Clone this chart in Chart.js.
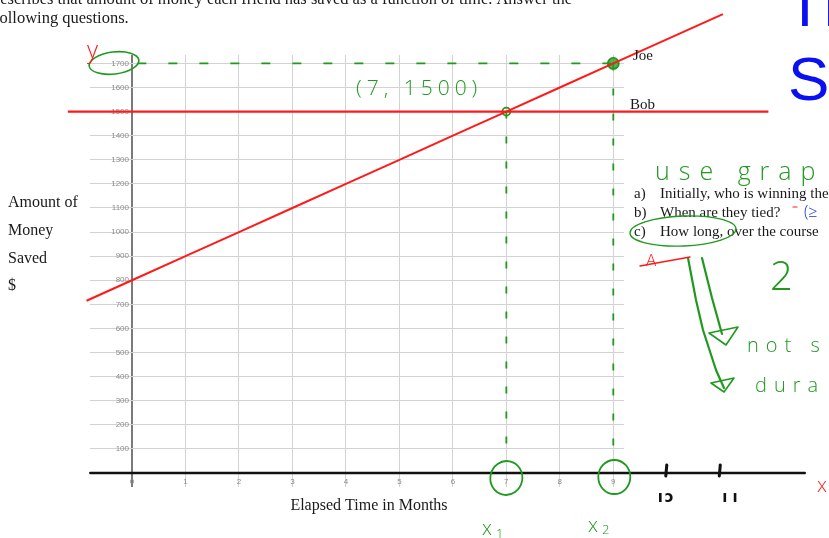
<!DOCTYPE html>
<html>
<head>
<meta charset="utf-8">
<script src="https://cdn.jsdelivr.net/npm/chart.js@4.4.0/dist/chart.umd.min.js"></script>
<style>
  html, body { margin: 0; padding: 0; background: #fff; }
  #wrap { width: 829px; height: 538px; position: relative; }
</style>
</head>
<body>
<div id="wrap"><canvas id="chart" width="829" height="538"></canvas></div>
<script>
// axis ticks
const monthTicks = [0, 1, 2, 3, 4, 5, 6, 7, 8, 9];
const savedTicks = [0, 100, 200, 300, 400, 500, 600, 700, 800, 900, 1000, 1100, 1200, 1300, 1400, 1500, 1600, 1700];

// Joe: the rising line (runs past the grid on both sides)
const joeMonths = [-0.85, 0, 1, 2, 3, 4, 5, 6, 7, 8, 9, 11.05];
const joeSaved = [715, 800, 900, 1000, 1100, 1200, 1300, 1400, 1500, 1600, 1700, 1905];

// Bob: flat line
const bobMonths = [-1.2, 11.9];
const bobSaved = [1500, 1500];

// hand-drawn guides
const tieMonths = [7, 7];
const tieSaved = [1500, 60];
const joeTopMonths = [9, 9];
const joeTopSaved = [1700, 60];
const topGuideMonths = [0.1, 9];
const topGuideSaved = [1700, 1700];

const RED = "#ff1a1a";
const GREEN = "#1f9a1f";
const INK = "#1a1a1a";
const HAND = '300 20px "Open Sans"';

const pts = (xs, ys) => xs.map((m, i) => ({ x: m, y: ys[i] }));

const notes = {
  id: "notes",
  afterDraw(chart) {
    const { ctx } = chart;
    const x = chart.scales.x;
    const y = chart.scales.y;
    const text = (s, px, py, font, color, align = "left", spacing = "0px") => {
      ctx.font = font;
      ctx.fillStyle = color;
      ctx.textAlign = align;
      ctx.textBaseline = "alphabetic";
      ctx.letterSpacing = spacing;
      ctx.fillText(s, px, py);
      ctx.letterSpacing = "0px";
    };
    const ellipse = (cx, cy, rx, ry, rot, color, lw) => {
      ctx.beginPath();
      ctx.ellipse(cx, cy, rx, ry, rot, 0, Math.PI * 2);
      ctx.strokeStyle = color;
      ctx.lineWidth = lw;
      ctx.stroke();
    };
    const path = (list, color, lw) => {
      ctx.beginPath();
      ctx.moveTo(list[0][0], list[0][1]);
      list.slice(1).forEach((p) => ctx.lineTo(p[0], p[1]));
      ctx.strokeStyle = color;
      ctx.lineWidth = lw;
      ctx.lineCap = "round";
      ctx.lineJoin = "round";
      ctx.stroke();
    };

    ctx.save();

    // extended x axis (drawn on by hand)
    path([[x.getPixelForValue(-0.78), y.getPixelForValue(0)], [x.getPixelForValue(12.58), y.getPixelForValue(0)]], "#111", 2.5);
    [10, 11].forEach((m) => {
      const px = x.getPixelForValue(m);
      path([[px, 465], [px - 1, 476]], "#111", 3);
    });
    text("ı", x.getPixelForValue(10) - 9, 502, "bold 15px 'DejaVu Sans'", "#111");
    text("ɔ", x.getPixelForValue(10) - 2, 502, "bold 15px 'DejaVu Sans'", "#111");
    text("ı ı", x.getPixelForValue(11) + 2, 502, "bold 15px 'DejaVu Sans'", "#111");
    text("x", 817, 492, "300 20px 'Open Sans'", RED);

    // printed text
    const serif = "16.5px 'Liberation Serif'";
    text("describes that amount of money each friend has saved as a function of time. Answer the", -8, 4, serif, INK);
    text("following questions.", -6, 23, serif, INK);
    text("Amount of", 8, 207, "16px 'Liberation Serif'", INK);
    text("Money", 8, 235, "16px 'Liberation Serif'", INK);
    text("Saved", 8, 263, "16px 'Liberation Serif'", INK);
    text("$", 8, 290, "16px 'Liberation Serif'", INK);
    text("Elapsed Time in Months", 369, 510, "16px 'Liberation Serif'", INK, "center");
    text("Joe", 633, 60, "15px 'Liberation Serif'", INK);
    text("Bob", 630, 109, "15px 'Liberation Serif'", INK);
    const q = "15px 'Liberation Serif'";
    text("a)", 634, 198, q, INK);
    text("Initially, who is winning the race?", 660, 198, q, INK);
    text("b)", 634, 217, q, INK);
    text("When are they tied?", 660, 217, q, INK);
    text("c)", 634, 236, q, INK);
    text("How long, over the course", 660, 236, q, INK);

    // big blue heading letters cut by the right edge
    text("Th", 786, 26, "62px 'Liberation Sans'", "#0a10f0");
    text("S", 788, 100, "62px 'Liberation Sans'", "#0a10f0");

    // green handwriting
    text("(7, 1500)", 356, 95, '300 21px "Open Sans"', GREEN, "left", "5px");
    text("use grap", 655, 180, '300 25px "Open Sans"', GREEN, "left", "9px");
    text("not s", 747, 352, HAND, GREEN, "left", "7px");
    text("dura", 755, 392, HAND, GREEN, "left", "7px");
    text("2", 770, 290, '300 40px "Open Sans"', GREEN);
    text("x", 482, 535, HAND, GREEN);
    text("1", 496, 538, '300 13px "Open Sans"', GREEN);
    text("x", 588, 532, HAND, GREEN);
    text("2", 602, 534, '300 13px "Open Sans"', GREEN);
    text("(≥", 804, 217, '300 16px "Open Sans"', "#1030e0");
    path([[793, 207], [797, 207]], RED, 1.2);

    // circles drawn by hand
    ellipse(114, 63, 25, 11, -0.12, GREEN, 1.6);
    ellipse(x.getPixelForValue(7), 478, 16, 17, 0.2, GREEN, 1.8);
    ellipse(x.getPixelForValue(9) + 1, 477, 16, 17, 0, GREEN, 1.8);
    ellipse(683, 231, 53, 15, -0.04, GREEN, 1.4);

    // arrows
    path([[688, 258], [696, 300], [703, 330], [716, 370], [724, 388]], GREEN, 2.2);
    path([[711, 383], [734, 378], [724, 392], [711, 383]], GREEN, 1.6);
    path([[702, 258], [712, 298], [722, 334]], GREEN, 2.2);
    path([[709, 333], [738, 327], [726, 345], [709, 333]], GREEN, 1.6);

    // red marks
    text("y", 87, 58, '300 24px "Open Sans"', RED);
    text("A", 646, 266, '300 17px "Open Sans"', RED);
    path([[640, 266], [690, 257]], RED, 1.4);

    ctx.restore();
  },
};

new Chart(document.getElementById("chart"), {
  type: "line",
  data: {
    datasets: [
      {
        label: "Joe",
        data: pts(joeMonths, joeSaved),
        borderColor: RED,
        borderWidth: 2,
        pointRadius: 0,
        clip: false,
      },
      {
        label: "Bob",
        data: pts(bobMonths, bobSaved),
        borderColor: RED,
        borderWidth: 2.2,
        pointRadius: 0,
        clip: false,
      },
      {
        label: "top guide",
        data: pts(topGuideMonths, topGuideSaved),
        borderColor: GREEN,
        borderWidth: 1.8,
        borderDash: [9, 22],
        pointRadius: 0,
        clip: false,
      },
      {
        label: "tie guide",
        data: pts(tieMonths, tieSaved),
        borderColor: GREEN,
        borderWidth: 1.8,
        borderDash: [7, 18],
        pointRadius: 0,
        clip: false,
      },
      {
        label: "joe guide",
        data: pts(joeTopMonths, joeTopSaved),
        borderColor: GREEN,
        borderWidth: 1.8,
        borderDash: [7, 18],
        pointRadius: 0,
        clip: false,
      },
      {
        label: "marks",
        data: [{ x: tieMonths[0], y: tieSaved[0] }],
        showLine: false,
        pointRadius: 4,
        pointBorderColor: GREEN,
        pointBackgroundColor: "rgba(0,0,0,0)",
        pointBorderWidth: 1.8,
        clip: false,
      },
      {
        label: "marks2",
        data: [{ x: joeTopMonths[0], y: joeTopSaved[0] }],
        showLine: false,
        pointRadius: 5.5,
        pointBorderColor: GREEN,
        pointBackgroundColor: "rgba(31,154,31,0.75)",
        pointBorderWidth: 1.8,
        clip: false,
      },
    ],
  },
  options: {
    responsive: false,
    animation: false,
    devicePixelRatio: 1,
    layout: { padding: { top: 55, right: 205, left: 0, bottom: 0 } },
    plugins: { legend: { display: false }, tooltip: { enabled: false } },
    scales: {
      x: {
        type: "linear",
        min: 0,
        max: 9.2,
        afterBuildTicks: (s) => { s.ticks = monthTicks.map((v) => ({ value: v })); },
        afterFit: (s) => { s.height = 65; },
        border: { display: false },
        grid: {
          color: (c) => (c.tick && c.tick.value === 0 ? "#7a7a7a" : "#d3d3d3"),
          lineWidth: (c) => (c.tick && c.tick.value === 0 ? 2 : 1),
          tickLength: 14,
        },
        ticks: {
          padding: -10,
          color: "#8c8c8c",
          font: { family: "'Liberation Sans'", size: 8 },
          maxRotation: 0,
          callback: (v) => String(v),
        },
      },
      y: {
        min: 0,
        max: 1735,
        afterBuildTicks: (s) => { s.ticks = savedTicks.map((v) => ({ value: v })); },
        afterFit: (s) => { s.width = 132; },
        border: { display: false },
        grid: {
          color: "#d3d3d3",
          lineWidth: 1,
          tickLength: 42,
        },
        ticks: {
          padding: -39,
          color: "#8c8c8c",
          font: { family: "'Liberation Sans'", size: 8 },
          callback: (v) => (v === 0 ? "" : String(v)),
        },
      },
    },
  },
  plugins: [notes],
});
</script>
</body>
</html>
